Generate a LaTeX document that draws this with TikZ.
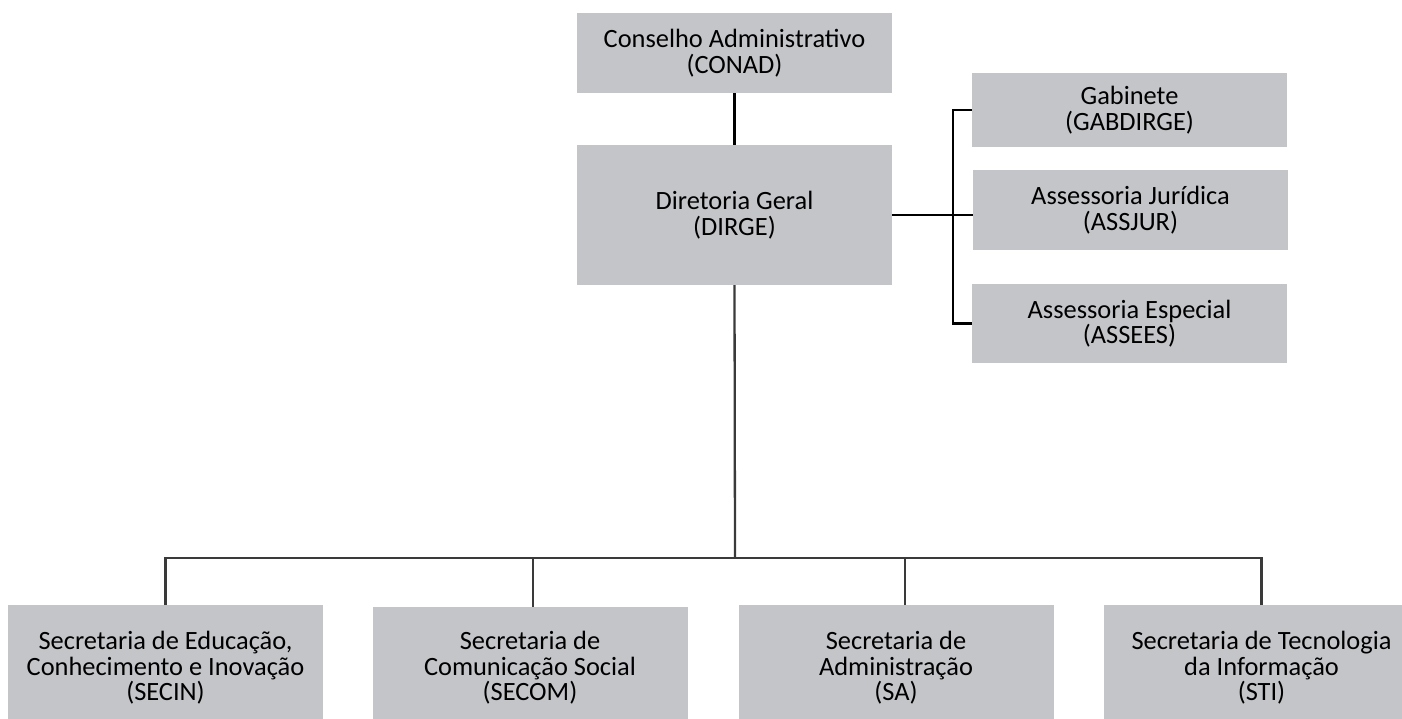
\documentclass[tikz,border=0pt]{standalone}
\usepackage{fontspec}
\setmainfont{Carlito}
\usetikzlibrary{positioning}
\definecolor{unitgray}{HTML}{C4C5C9}
\definecolor{linkdark}{HTML}{3A3A3A}

\begin{document}
\begin{tikzpicture}[x=1pt,y=-1pt,
  unit/.style={fill=unitgray,minimum width=315pt,align=center,inner sep=0pt,
    font=\fontsize{26.4}{25.6}\selectfont},
  low/.style={unit,anchor=north,inner ysep=26pt,text depth=100pt},
  trunk/.style={draw=black,line width=2.6pt},
  branch/.style={draw=linkdark,line width=2.3pt}]
  \useasboundingbox (0,0) rectangle (1402,718);
  \clip (0,0) rectangle (1402,718);

  \path
  (734.5,53) node[unit,minimum height=80pt](conad) {Conselho Administrativo\\(CONAD)}
  (734.5,215) node[unit,minimum height=140pt](dirge) {Diretoria Geral\\(DIRGE)}
  (1129.5,110) node[unit,minimum height=74pt](gab) {Gabinete\\(GABDIRGE)}
  (1130.5,210) node[unit,minimum height=80pt](assjur) {Assessoria Jurídica\\(ASSJUR)}
  (1129.5,323.5) node[unit,minimum height=79pt](assees) {Assessoria Especial\\(ASSEES)}
  (165.5,605) node[low](secin) {Secretaria de Educação,\\Conhecimento e Inovação\\(SECIN)}
  (530,607) node[low,inner ysep=24pt](secom) {Secretaria de\\Comunicação Social\\(SECOM)}
  (896,605) node[low](sa) {Secretaria de\\Administração\\(SA)}
  (1261.5,605) node[low](sti) {Secretaria de Tecnologia\\da Informação\\(STI)}
  ;

  \coordinate (bus) at (735,558);
  \coordinate (secomtop) at ([xshift=3pt]secom.north);
  \coordinate (satop) at ([xshift=9pt]sa.north);

  \draw[trunk] (conad) -- (dirge);
  \draw[trunk] (dirge.east) -- (dirge.east -| assjur.west);
  \draw[trunk] (gab.west) -- ++(-19,0) |- (assees.west);

  \draw[branch] (dirge.south) -- (bus);
  \draw[branch] (secin.north) |- (sti.north |- bus) -- (sti.north);
  \draw[branch] (secomtop) -- (secomtop |- bus);
  \draw[branch] (satop) -- (satop |- bus);
\end{tikzpicture}
\end{document}
